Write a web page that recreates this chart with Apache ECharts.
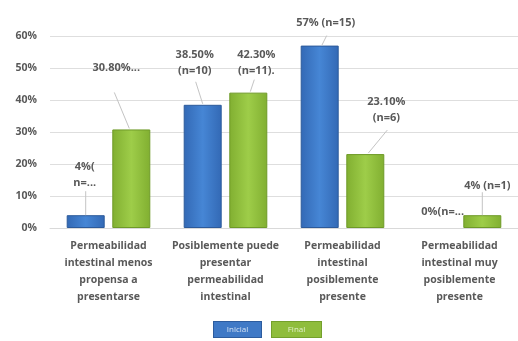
<!DOCTYPE html>
<html>
<head>
<meta charset="utf-8">
<style>
  html, body { margin: 0; padding: 0; background: #ffffff; }
  #chart { width: 518px; height: 341px; }
</style>
<script src="https://cdn.jsdelivr.net/npm/echarts@6/dist/echarts.min.js"></script>
</head>
<body>
<div id="chart"></div>
<script>
// Categories (x axis)
const categories = [
  'Permeabilidad\nintestinal menos\npropensa a\npresentarse',
  'Posiblemente puede\npresentar\npermeabilidad\nintestinal',
  'Permeabilidad\nintestinal\nposiblemente\npresente',
  'Permeabilidad\nintestinal muy\nposiblemente\npresente'
];

// Series values (percent)
const inicialValues = [4, 38.5, 57, 0];
const finalValues = [30.8, 42.3, 23.1, 4];

// Data label texts
const inicialLabels = ['4%(\nn=...', '38.50%\n(n=10)', '57% (n=15)', '0%(n=...'];
const finalLabels = ['30.80%...', '42.30%\n(n=11).', '23.10%\n(n=6)', '4% (n=1)'];

// Y axis ticks
const yTicks = [0, 10, 20, 30, 40, 50, 60];

// Label centre offsets from the top centre of each bar: [dx, dy]
const inicialOffsets = [[-1, -40], [-8, -42], [6, -23], [6, -16]];
const finalOffsets = [[-15, -62], [8, -30], [21, -44], [5, -29]];

// Leader lines, relative to the top centre of each bar: [[x1, y1], [x2, y2]] or null
const inicialLeaders = [[[0, -24], [0, 0]], [[-7, -23], [0, -1]], [[7, -10], [2, 0]], null];
const finalLeaders = [[[-17, -37], [-2, -1]], [[6, -13], [2, -1]], [[22, -24], [3, -1]], [[0, -23], [0, 0]]];

const BAR_WIDTH = 38;
const BAR_GAP = 0.2;
const textGray = '#595959';
const fontFamily = '"Open Sans", Lato, sans-serif';

function barGradient(dark, light) {
  return new echarts.graphic.LinearGradient(0, 0, 1, 0, [
    { offset: 0, color: dark },
    { offset: 0.5, color: light },
    { offset: 1, color: dark }
  ]);
}

// Zero-height bars get no outline so they stay invisible
function barData(values) {
  return values.map(function (v) {
    return v === 0 ? { value: v, itemStyle: { borderWidth: 0 } } : v;
  });
}

function layoutFor(offsets) {
  return function (params) {
    const r = params.rect;
    const o = offsets[params.dataIndex];
    return {
      x: r.x + r.width / 2 + o[0],
      y: r.y + o[1],
      align: 'center',
      verticalAlign: 'middle'
    };
  };
}

// Leader line series: side -1 = left bar of the pair, +1 = right bar
function leaderSeries(values, leaders, side) {
  return {
    type: 'custom',
    silent: true,
    z: 5,
    encode: { x: 0, y: 1 },
    data: values.map(function (v, i) { return [i, v]; }),
    renderItem: function (params, api) {
      const seg = leaders[params.dataIndex];
      if (!seg) return null;
      const top = api.coord([api.value(0), api.value(1)]);
      const cx = top[0] + side * (BAR_WIDTH * (1 + BAR_GAP)) / 2;
      return {
        type: 'line',
        shape: {
          x1: cx + seg[0][0], y1: top[1] + seg[0][1],
          x2: cx + seg[1][0], y2: top[1] + seg[1][1]
        },
        style: { stroke: '#c4c4c4', lineWidth: 1 }
      };
    }
  };
}

const labelCommon = {
  show: true,
  position: 'top',
  color: textGray,
  fontSize: 11,
  fontWeight: 'bold',
  fontFamily: fontFamily,
  lineHeight: 16
};

const chart = echarts.init(document.getElementById('chart'), null, { renderer: 'canvas' });

chart.setOption({
  animation: false,
  backgroundColor: '#ffffff',
  grid: { left: 50, right: -5, top: 36, bottom: 113, containLabel: false },
  legend: {
    left: 204,
    top: 316,
    icon: 'none',
    itemWidth: 0,
    itemHeight: 16,
    itemGap: 5,
    data: ['Inicial', 'Final'],
    formatter: function (name) {
      return name === 'Inicial' ? '{i|Inicial}' : '{f|Final}';
    },
    textStyle: {
      padding: 0,
      rich: {
        i: {
          backgroundColor: '#3f79c6', borderColor: '#2d5c9e', borderWidth: 1,
          width: 47, height: 15, align: 'center', color: '#d5e3f5',
          fontSize: 8, fontFamily: fontFamily
        },
        f: {
          backgroundColor: '#8fbd3c', borderColor: '#74a02c', borderWidth: 1,
          width: 49, height: 15, align: 'center', color: '#e2f0cc',
          fontSize: 8, fontFamily: fontFamily
        }
      }
    }
  },
  xAxis: {
    type: 'category',
    data: categories,
    axisLine: { show: true, lineStyle: { color: '#d9d9d9' } },
    axisTick: { show: false },
    axisLabel: {
      interval: 0,
      margin: 10,
      color: textGray,
      fontSize: 10.5,
      fontWeight: 'bold',
      fontFamily: fontFamily,
      lineHeight: 17
    }
  },
  yAxis: {
    type: 'value',
    min: yTicks[0],
    max: yTicks[yTicks.length - 1],
    interval: 10,
    axisLine: { show: false },
    axisTick: { show: false },
    splitLine: { lineStyle: { color: '#dedede', width: 1 } },
    axisLabel: {
      margin: 13,
      color: textGray,
      fontSize: 10.5,
      fontWeight: 'bold',
      fontFamily: fontFamily,
      formatter: '{value}%'
    }
  },
  series: [
    {
      name: 'Inicial',
      type: 'bar',
      data: barData(inicialValues),
      barWidth: BAR_WIDTH,
      barGap: (BAR_GAP * 100) + '%',
      itemStyle: {
        color: barGradient('#3369b5', '#4686d5'),
        borderColor: '#2c5a9a',
        borderWidth: 1
      },
      label: Object.assign({}, labelCommon, {
        formatter: function (p) { return inicialLabels[p.dataIndex]; }
      }),
      labelLayout: layoutFor(inicialOffsets)
    },
    {
      name: 'Final',
      type: 'bar',
      data: barData(finalValues),
      barWidth: BAR_WIDTH,
      barGap: (BAR_GAP * 100) + '%',
      itemStyle: {
        color: barGradient('#81af31', '#9ecd49'),
        borderColor: '#6e9a27',
        borderWidth: 1
      },
      label: Object.assign({}, labelCommon, {
        formatter: function (p) { return finalLabels[p.dataIndex]; }
      }),
      labelLayout: layoutFor(finalOffsets)
    },
    leaderSeries(inicialValues, inicialLeaders, -1),
    leaderSeries(finalValues, finalLeaders, 1)
  ]
});
</script>
</body>
</html>
